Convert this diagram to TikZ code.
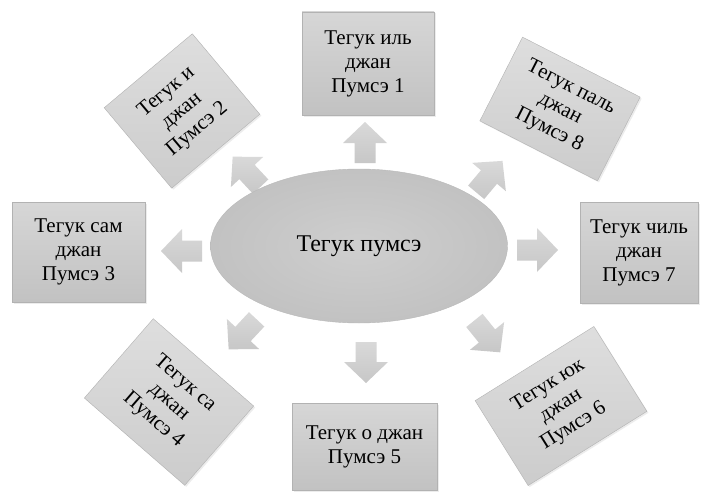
\documentclass[tikz,border=0pt]{standalone}
\usepackage{fontspec}
\newfontfamily\tfont{Liberation Serif}
\usetikzlibrary{shapes.geometric,shadows}
\begin{document}
\begin{tikzpicture}[x=1pt,y=-1pt,
  box/.style={draw=gray!60, line width=0.4pt, top color=gray!32, bottom color=gray!48,
    align=center, font=\tfont\fontsize{21}{24}\selectfont, inner sep=0pt, anchor=center,
    drop shadow={opacity=0.15, shadow xshift=1.5pt, shadow yshift=-1.5pt}},
  rbox/.style={box, top color=gray!26, bottom color=gray!40},
  hub/.style={ellipse, draw=gray!55, line width=0.4pt, inner color=gray!38, outer color=gray!48,
    font=\tfont\fontsize{24}{28}\selectfont, inner sep=0pt},
  blockarrow/.style={top color=gray!30, bottom color=gray!44}]
\useasboundingbox (0,0) rectangle (702,495);
\fill[white] (0,0) rectangle (702,495);

% block arrows (pointing along +x in local coordinates)
\newcommand{\blockarr}[3]{%
  \begin{scope}[shift={(#1,#2)}, rotate=#3]
    \path[blockarrow] (-20,-10.5) -- (0,-10.5) -- (0,-22) -- (21,0) -- (0,22) -- (0,10.5) -- (-20,10.5) -- cycle;
  \end{scope}}
\blockarr{365}{143}{90}
\blockarr{247}{172}{133}
\blockarr{182}{251}{180}
\blockarr{243}{334}{227}
\blockarr{366}{362}{-90}
\blockarr{487}{336}{-51}
\blockarr{537}{250}{0}
\blockarr{489}{177}{50}

% hub
\node[hub, minimum width=297, minimum height=154] (c) at (359,246) {Тегук пумсэ};

% boxes
\node[box, minimum width=132, minimum height=103] (b1) at (368,63.5) {Тегук иль\\джан\\Пумсэ 1};
\node[rbox, minimum width=115, minimum height=105, rotate=40] (b2) at (182,111) {Тегук и\\джан\\Пумсэ 2};
\node[box, minimum width=133, minimum height=100] (b3) at (78.5,252) {Тегук сам\\джан\\Пумсэ 3};
\node[rbox, minimum width=133, minimum height=105, rotate=-41] (b4) at (169,402) {Тегук са\\джан\\Пумсэ 4};
\node[box, minimum width=145, minimum height=87] (b5) at (364.5,446.5) {Тегук о джан\\Пумсэ 5};
\node[rbox, minimum width=140, minimum height=100, rotate=32] (b6) at (561,406) {Тегук юк\\джан\\Пумсэ 6};
\node[box, minimum width=118, minimum height=101] (b7) at (639,252.5) {Тегук чиль\\джан\\Пумсэ 7};
\node[rbox, minimum width=132, minimum height=94, rotate=-27] (b8) at (560,109) {Тегук паль\\джан\\Пумсэ 8};
\end{tikzpicture}
\end{document}
